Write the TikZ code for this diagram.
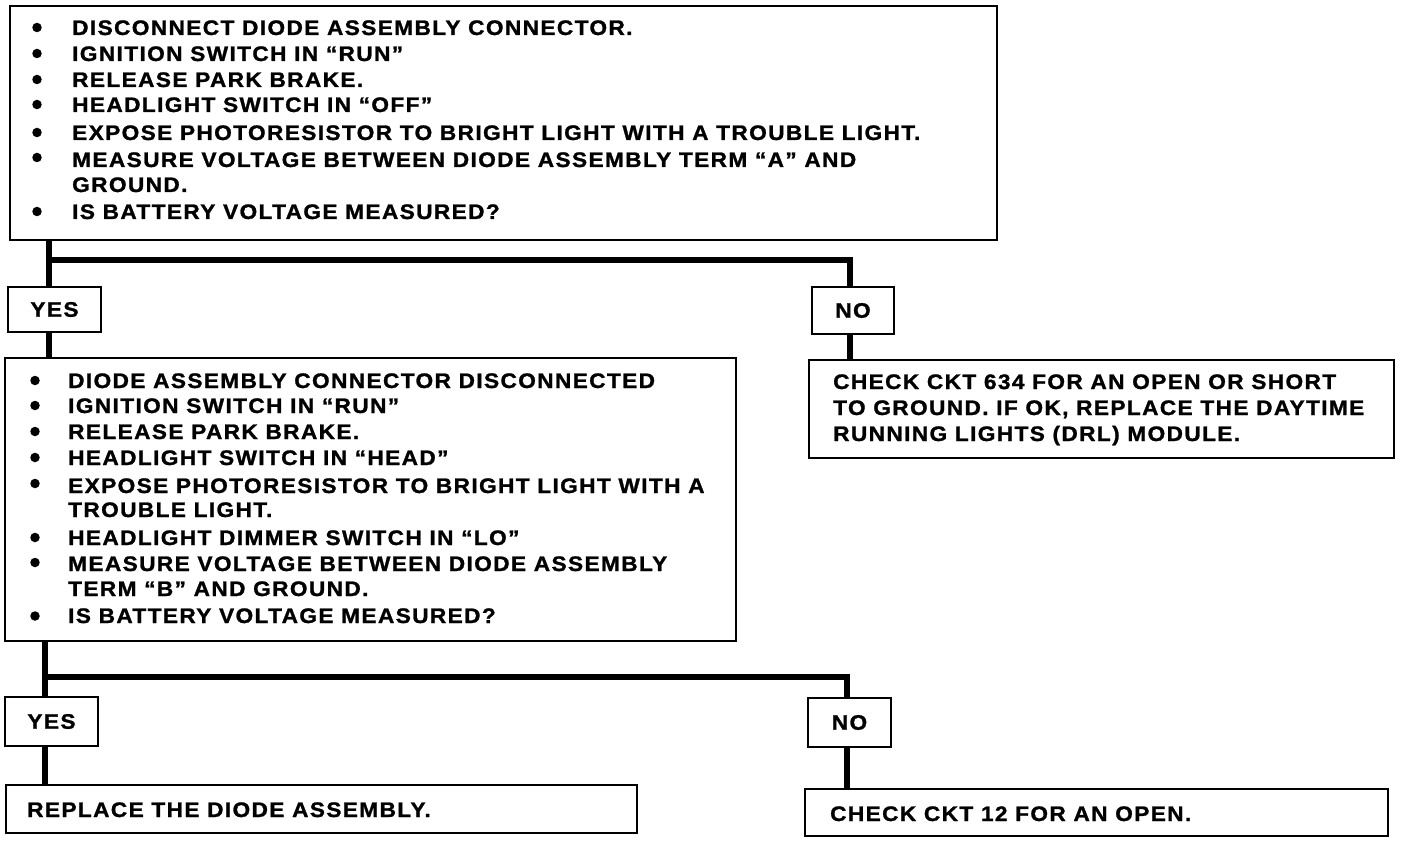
\documentclass[tikz,border=0pt]{standalone}
\usepackage{fontspec}
\setmainfont{Liberation Sans}[FakeStretch=1.08, LetterSpace=6.5, FakeBold=1.2]
\begin{document}
\begin{tikzpicture}[x=1pt,y=-1pt,
  box/.style={draw, line width=2.8pt, inner sep=0pt, font=\fontsize{21}{24}\selectfont\bfseries},
  conn/.style={line width=6pt},
  txt/.style={anchor=base west, inner sep=0pt, font=\fontsize{21}{24}\selectfont\bfseries},
  bul/.style={circle, fill, inner sep=0pt, minimum size=9.5pt}]
\useasboundingbox (0,0) rectangle (1408,842);
% boxes
\node[box, minimum width=987pt, minimum height=234pt] (b1) at (503.5,123) {};
\node[box, minimum width=93pt, minimum height=45pt] (yes1) at (54.5,309.5) {YES};
\node[box, minimum width=82pt, minimum height=47pt] (no1) at (853,310.5) {NO};
\node[box, minimum width=731pt, minimum height=283pt] (b2) at (370.5,499.5) {};
\node[box, minimum width=585pt, minimum height=98pt] (b3) at (1101.5,409) {};
\node[box, minimum width=93pt, minimum height=49pt] (yes2) at (51.5,721.5) {YES};
\node[box, minimum width=83pt, minimum height=49pt] (no2) at (849.5,722.5) {NO};
\node[box, minimum width=631pt, minimum height=48pt] (b4) at (321.5,809) {};
\node[box, minimum width=583pt, minimum height=47pt] (b5) at (1096.5,812.5) {};
% box 1 text
\node[bul] (b1d1) at (37,27.5) {};
\node[txt] (b1t1) at (72,35) {DISCONNECT DIODE ASSEMBLY CONNECTOR.};
\node[bul] (b1d2) at (37,53.5) {};
\node[txt] (b1t2) at (72,61) {IGNITION SWITCH IN “RUN”};
\node[bul] (b1d3) at (37,79.5) {};
\node[txt] (b1t3) at (72,87) {RELEASE PARK BRAKE.};
\node[bul] (b1d4) at (37,104.5) {};
\node[txt] (b1t4) at (72,112) {HEADLIGHT SWITCH IN “OFF”};
\node[bul] (b1d5) at (37,132.5) {};
\node[txt] (b1t5) at (72,140) {EXPOSE PHOTORESISTOR TO BRIGHT LIGHT WITH A TROUBLE LIGHT.};
\node[bul] (b1d6) at (37,157.5) {};
\node[txt] (b1t6) at (72,167) {MEASURE VOLTAGE BETWEEN DIODE ASSEMBLY TERM “A” AND};
\node[txt] (b1t7) at (72,192) {GROUND.};
\node[bul] (b1d8) at (37,211.5) {};
\node[txt] (b1t8) at (72,219) {IS BATTERY VOLTAGE MEASURED?};
% box 2 text
\node[bul] (b2d1) at (35,380.5) {};
\node[txt] (b2t1) at (68,388) {DIODE ASSEMBLY CONNECTOR DISCONNECTED};
\node[bul] (b2d2) at (35,405.5) {};
\node[txt] (b2t2) at (68,413) {IGNITION SWITCH IN “RUN”};
\node[bul] (b2d3) at (35,431.5) {};
\node[txt] (b2t3) at (68,439) {RELEASE PARK BRAKE.};
\node[bul] (b2d4) at (35,457.5) {};
\node[txt] (b2t4) at (68,465) {HEADLIGHT SWITCH IN “HEAD”};
\node[bul] (b2d5) at (35,483.5) {};
\node[txt] (b2t5) at (68,493) {EXPOSE PHOTORESISTOR TO BRIGHT LIGHT WITH A};
\node[txt] (b2t6) at (68,517) {TROUBLE LIGHT.};
\node[bul] (b2d7) at (35,537.5) {};
\node[txt] (b2t7) at (68,545) {HEADLIGHT DIMMER SWITCH IN “LO”};
\node[bul] (b2d8) at (35,562.5) {};
\node[txt] (b2t8) at (68,571) {MEASURE VOLTAGE BETWEEN DIODE ASSEMBLY};
\node[txt] (b2t9) at (68,596) {TERM “B” AND GROUND.};
\node[bul] (b2d10) at (35,616) {};
\node[txt] (b2t10) at (68,623) {IS BATTERY VOLTAGE MEASURED?};
% box 3 text
\node[txt] (b3t1) at (833,389) {CHECK CKT 634 FOR AN OPEN OR SHORT};
\node[txt] (b3t2) at (833,415) {TO GROUND. IF OK, REPLACE THE DAYTIME};
\node[txt] (b3t3) at (833,441) {RUNNING LIGHTS (DRL) MODULE.};
% box 4, 5 text
\node[txt] (b4t1) at (27,817) {REPLACE THE DIODE ASSEMBLY.};
\node[txt] (b5t1) at (830,821) {CHECK CKT 12 FOR AN OPEN.};
% connectors
\coordinate (j1) at (49,260);
\coordinate (k1) at (850,260);
\coordinate (j2) at (45,677);
\coordinate (k2) at (847,677);
\draw[conn] (j1 |- b1.south) -- (j1 |- yes1.north);
\draw[conn] (j1) -- (k1) -- (k1 |- no1.north);
\draw[conn] (j1 |- yes1.south) -- (j1 |- b2.north);
\draw[conn] (k1 |- no1.south) -- (k1 |- b3.north);
\draw[conn] (j2 |- b2.south) -- (j2 |- yes2.north);
\draw[conn] (j2) -- (k2) -- (k2 |- no2.north);
\draw[conn] (j2 |- yes2.south) -- (j2 |- b4.north);
\draw[conn] (k2 |- no2.south) -- (k2 |- b5.north);
\end{tikzpicture}
\end{document}
